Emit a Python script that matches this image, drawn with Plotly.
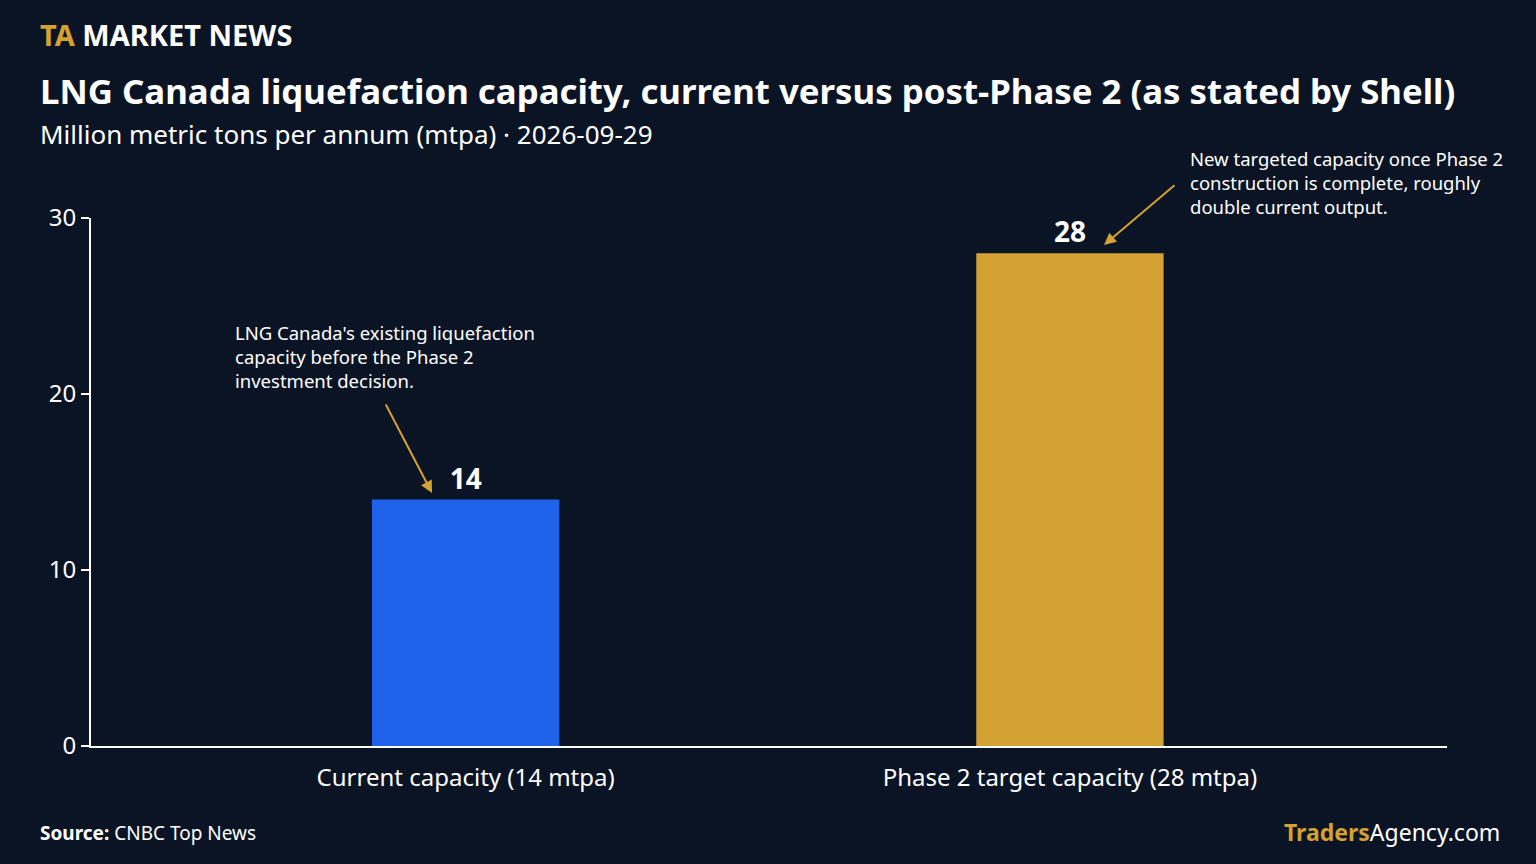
import plotly.graph_objects as go

categories = ["Current capacity (14 mtpa)", "Phase 2 target capacity (28 mtpa)"]
capacity_mtpa = [14, 28]
bar_colors = ["#1f63ea", "#d4a232"]
y_ticks = [0, 10, 20, 30]

BG = "#0b1424"
GOLD = "#d4a232"
FONT = "Noto Sans"

fig = go.Figure()
fig.add_trace(go.Bar(
    x=[0, 1], y=capacity_mtpa,
    marker=dict(color=bar_colors, line=dict(width=0)),
    width=0.31,
    text=[f"<b>{v}</b>" for v in capacity_mtpa],
    textposition="outside",
    textfont=dict(color="white", size=28, family=FONT),
    cliponaxis=False,
    hoverinfo="skip",
))

fig.update_layout(
    width=1536, height=864,
    paper_bgcolor=BG, plot_bgcolor=BG,
    margin=dict(l=91, r=89, t=218, b=118, autoexpand=False),
    font=dict(family=FONT, color="white"),
    showlegend=False,
    xaxis=dict(range=[-0.62, 1.624], tickvals=[0, 1], ticktext=categories,
               showgrid=False, zeroline=False, showline=True, linecolor="white",
               linewidth=2, tickfont=dict(size=24, color="white"),
               ticks="outside", ticklen=9, tickcolor=BG),
    yaxis=dict(range=[0, 30], tickvals=y_ticks, showgrid=False, zeroline=False,
               showline=True, linecolor="white", linewidth=2, ticks="outside",
               ticklen=8, tickcolor="white", tickwidth=2,
               tickfont=dict(size=24, color="white")),
)


def px(x, y):
    # page pixels -> paper coordinates
    return (x - 91) / 1356, (746 - y) / 528


def ptext(x, y, text, size, color="white", xanchor="left", yanchor="middle"):
    fx, fy = px(x, y)
    fig.add_annotation(x=fx, y=fy, xref="paper", yref="paper", text=text,
                       showarrow=False, xanchor=xanchor, yanchor=yanchor, align="left",
                       font=dict(size=size, color=color, family=FONT))


ptext(38, 35, f"<b><span style='color:{GOLD}'>TA</span> MARKET NEWS</b>", 29)
ptext(38, 90, "<b>LNG Canada liquefaction capacity, current versus post-Phase 2 (as stated by Shell)</b>", 34.8)
ptext(38, 134, "Million metric tons per annum (mtpa) · 2026-09-29", 26)
ptext(38, 833, "<b>Source:</b> CNBC Top News", 19)
ptext(1502, 832, f"<b><span style='color:{GOLD}'>Traders</span></b>Agency.com", 23, xanchor="right")

ptext(233, 356, "LNG Canada's existing liquefaction<br>capacity before the Phase 2<br>investment decision.", 18.5)
ptext(1188, 183, "New targeted capacity once Phase 2<br>construction is complete, roughly<br>double current output.", 18.5)

# arrows
for hx, hy, tx, ty in [(432, 493, 385, 403), (1104, 245, 1176, 184)]:
    fx, fy = px(hx, hy)
    fig.add_annotation(x=fx, y=fy, xref="paper", yref="paper", ax=tx - hx, ay=ty - hy,
                       showarrow=True, arrowhead=2, arrowsize=1.2, arrowwidth=2,
                       arrowcolor=GOLD, text="")

fig.write_html("out.html", config={"displayModeBar": False},
               post_script="document.body.style.margin='0';document.body.style.background='#0b1424';")
